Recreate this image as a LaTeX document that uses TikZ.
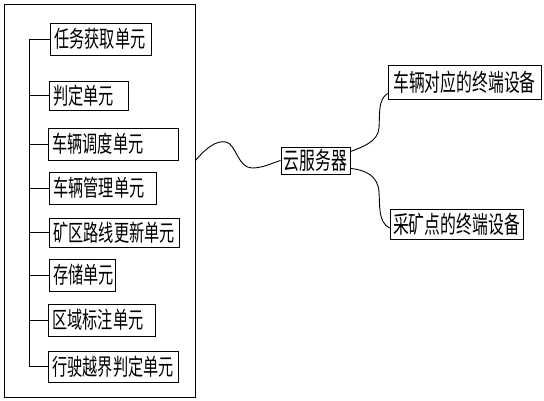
\documentclass[tikz,border=0pt]{standalone}
\usepackage{fontspec}
\newfontfamily\cjk[FakeStretch=0.66]{Noto Sans CJK SC}
\usetikzlibrary{calc}

\begin{document}
\begin{tikzpicture}[x=1pt,y=-1pt,line width=0.9pt,
  unit/.style={draw,anchor=west,align=left,inner xsep=4pt,inner ysep=0pt,
    font=\cjk\fontsize{23}{24}\selectfont},
  device/.style={draw,align=center,inner sep=0pt,
    font=\cjk\fontsize{24}{24}\selectfont}]
  \useasboundingbox (0,0) rectangle (544,401);

  \node[draw,minimum width=191,minimum height=393,inner sep=0pt] (panel) at (99.5,200.5) {};
  \coordinate (bus) at (29,0);

  \foreach \n/\x/\y/\w/\h/\t in {
      u1/50/39/102/32/任务获取单元,
      u2/49/95.5/80/29/判定单元,
      u3/48/144/131/32/车辆调度单元,
      u4/49/188/108/32/车辆管理单元,
      u5/49/232.5/131/29/矿区路线更新单元,
      u6/49/275/67/32/存储单元,
      u7/48/320/108/32/区域标注单元,
      u8/48/366.5/131/31/行驶越界判定单元} {
    \node[unit,text width=\w-9,minimum height=\h] (\n) at (\x,\y) {\t};
    \draw (bus |- \n.west) -- (\n.west);
  }
  \draw (bus |- u1.west) -- (bus |- u8.west);

  \node[device,minimum width=69,minimum height=27] (cloud) at (315.5,160.5) {云服务器};
  \node[device,minimum width=153,minimum height=34] (dev1) at (464.5,82) {车辆对应的终端设备};
  \node[device,minimum width=133,minimum height=30] (dev2) at (456.5,224) {采矿点的终端设备};

  \draw (panel.east |- cloud.west) .. controls (205,149) and (216,140) .. (226,142)
    .. controls (236,144) and (238,168) .. (252,168)
    .. controls (263,168) and (272,163) .. (cloud.west);
  \draw ([yshift=-5pt]cloud.north east) .. controls (362,147) and (378,142) .. (379,128)
    .. controls (380,112) and (378,100) .. ([yshift=6pt]dev1.south west);
  \draw ([yshift=6pt]cloud.south east) .. controls (366,170) and (378,176) .. (379,192)
    .. controls (380,206) and (378,222) .. ([yshift=-4pt]dev2.west);
\end{tikzpicture}
\end{document}
